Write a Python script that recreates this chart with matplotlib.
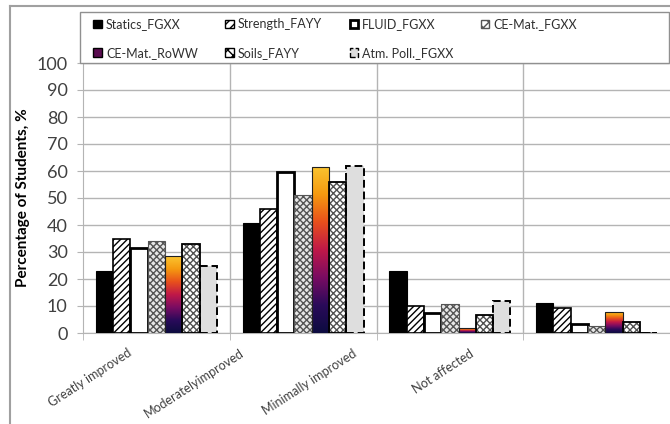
import numpy as np
import matplotlib
matplotlib.use("Agg")
import matplotlib.pyplot as plt
from matplotlib.colors import LinearSegmentedColormap
from matplotlib.lines import Line2D
from matplotlib.patches import Patch, Rectangle
import matplotlib.transforms as mtransforms

plt.rcParams['font.family'] = ['Lato', 'DejaVu Sans']

categories = ["Greatly improved", "Moderatelyimproved", "Minimally improved", "Not affected"]
series_names = ["Statics_FGXX", "Strength_FAYY", "FLUID_FGXX", "CE-Mat._FGXX",
                "CE-Mat._RoWW", "Soils_FAYY", "Atm. Poll._FGXX"]
statics = [23, 40.7, 23, 11]
strength = [35, 46, 10, 9.3]
fluid = [31.5, 59.5, 7.4, 3.3]
cemat_fgxx = [34, 51, 10.7, 2.6]
cemat_roww = [28.5, 61.5, 1.8, 7.8]
soils = [33, 56, 6.7, 4.1]
atm_poll = [25, 62, 11.8, 0]
yticks = list(range(0, 101, 10))

series = [statics, strength, fluid, cemat_fgxx, cemat_roww, soils, atm_poll]

fig = plt.figure(figsize=(6.7, 4.24), dpi=100)
W, H = 670, 424
ax = fig.add_axes([83 / W, 1 - 333 / H, (670 - 83) / W, (333 - 63) / H])

grid_c = '#b4b4b4'
x = np.arange(len(categories))
n = len(series)
group_w = 0.823
bw = group_w / n
offs = (np.arange(n) - (n - 1) / 2) * bw

grad_cmap = LinearSegmentedColormap.from_list(
    'g', ['#0c0c40', '#2a0a5a', '#7a0c62', '#c01848', '#e8501c', '#f59a10', '#fbc530'])

for i, vals in enumerate(series):
    pos = x + offs[i]
    if i == 0:
        ax.bar(pos, vals, bw, color='black', edgecolor='black', lw=0.8, zorder=3)
    elif i == 1:
        ax.bar(pos, vals, bw, color='white', edgecolor='black', hatch='/////', lw=1.2, zorder=3)
    elif i == 2:
        ax.bar(pos, vals, bw, color='white', edgecolor='black', lw=2.0, zorder=3)
    elif i == 3:
        ax.bar(pos, vals, bw, color='#e8e8e8', edgecolor='#555555', hatch='xxxxx', lw=0, zorder=3)
        ax.bar(pos, vals, bw, fill=False, edgecolor='#555555', lw=0.8, zorder=4)
    elif i == 4:
        bars = ax.bar(pos, vals, bw, color='none', edgecolor='#202020', lw=0.8, zorder=4)
        grad = np.linspace(0, 1, 256).reshape(-1, 1)
        for b in bars:
            bx, by = b.get_x(), b.get_y()
            bh = b.get_height()
            if bh <= 0:
                continue
            im = ax.imshow(grad, cmap=grad_cmap, origin='lower', aspect='auto',
                           extent=(bx, bx + b.get_width(), by, by + bh), zorder=3,
                           interpolation='bilinear')
            im.set_clip_path(b)
    elif i == 5:
        ax.bar(pos, vals, bw, color='white', edgecolor='#505050', hatch='xxxxx', lw=0, zorder=3)
        ax.bar(pos, vals, bw, fill=False, edgecolor='black', lw=1.3, zorder=4)
    elif i == 6:
        ax.bar(pos, vals, bw, color='#dedede', edgecolor='black', lw=1.4,
               linestyle=(0, (4, 2)), zorder=3)

ax.set_xlim(-0.5, len(categories) - 0.5)
ax.set_ylim(0, 100)
ax.set_yticks(yticks)
ax.set_yticklabels([str(t) for t in yticks], fontsize=13, color='#404040')
ax.yaxis.grid(True, color=grid_c, lw=1.0, zorder=0)
ax.set_axisbelow(True)
for b in np.arange(0.5, len(categories) - 0.5, 1):
    ax.axvline(b, color=grid_c, lw=1.0, zorder=0)

# category labels (rotated, shifted like the reference)
ax.set_xticks(x)
ax.set_xticklabels([])
ax.tick_params(axis='x', length=0)
label_shift = [-29, -64, -98, -127]
blend = mtransforms.blended_transform_factory(ax.transData, ax.transAxes)
for xi, cat, dx in zip(x, categories, label_shift):
    tr = blend + mtransforms.ScaledTranslation(dx / 100, -14 / 100, fig.dpi_scale_trans)
    ax.text(xi, 0, cat, transform=tr, rotation=33, rotation_mode='anchor',
            ha='right', va='top', fontsize=9, color='#404040')

ax.set_xticks(np.arange(-0.5, len(categories), 1), minor=True)
ax.tick_params(axis='x', which='minor', length=5, color=grid_c, direction='out')
ax.tick_params(axis='y', length=4, color=grid_c, pad=7)

for s in ['top', 'right']:
    ax.spines[s].set_visible(False)
ax.spines['left'].set_color(grid_c)
ax.spines['bottom'].set_color(grid_c)

ax.set_ylabel("Percentage of Students, %", fontsize=11, fontweight='bold', labelpad=5)

handles = [
    Patch(facecolor='black', edgecolor='black'),
    Patch(facecolor='white', edgecolor='black', hatch='////'),
    Patch(facecolor='white', edgecolor='black', lw=2),
    Patch(facecolor='white', edgecolor='#555555', hatch='xxx'),
    Patch(facecolor='#5a0c50', edgecolor='black'),
    Patch(facecolor='white', edgecolor='black', hatch='xxx'),
    Patch(facecolor='#dedede', edgecolor='black', linestyle='--'),
]
order = [0, 4, 1, 5, 2, 6, 3]
# legend box frame
fig.add_artist(Rectangle((80 / W, 1 - 63 / H), (669 - 80) / W, 51 / H,
                         transform=fig.transFigure, facecolor='white',
                         edgecolor='#909090', lw=1.0, zorder=5))
leg = fig.legend([handles[k] for k in order], [series_names[k] for k in order],
                 ncol=4, loc='upper left',
                 bbox_to_anchor=(91 / W, 1 - 16 / H),
                 bbox_transform=fig.transFigure,
                 fontsize=9, frameon=False,
                 handlelength=0.65, handleheight=0.65, handletextpad=0.35,
                 columnspacing=2.2, borderaxespad=0, borderpad=0.2, labelspacing=1.3)
leg.set_zorder(6)
for t in leg.get_texts():
    t.set_color('#303030')

# outer frame
fig.add_artist(Line2D([10 / W, 10 / W], [0, 1 - 6 / H], color='#a0a0a0', lw=1.5,
                      transform=fig.transFigure))
fig.add_artist(Line2D([10 / W, 1], [1 - 6 / H, 1 - 6 / H], color='#a0a0a0', lw=1.5,
                      transform=fig.transFigure))

fig.savefig("out.png", dpi=100)
